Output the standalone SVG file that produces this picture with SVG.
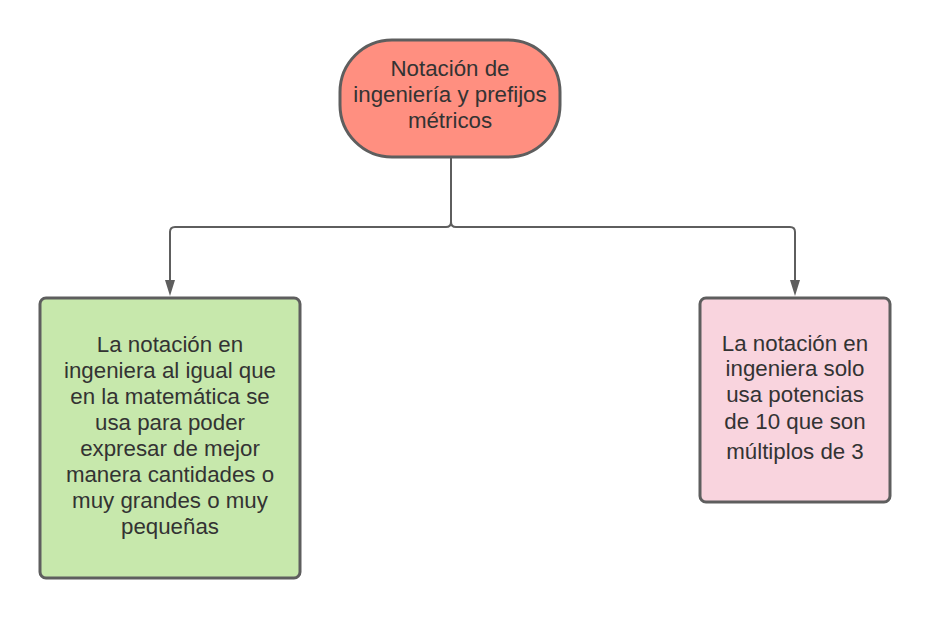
<svg xmlns="http://www.w3.org/2000/svg" width="930" height="618" viewBox="0 0 930 618">
<defs>
<style>
.box{stroke:#5e5e5e;stroke-width:3}
.t{font-family:"Liberation Sans",Arial,sans-serif;font-size:22.3px;fill:#333333;text-anchor:middle}
.c{fill:none;stroke:#5e5e5e;stroke-width:2}
.ah{fill:#5e5e5e}
</style>
</defs>
<rect width="930" height="618" fill="#ffffff"/>
<g id="connectors">
<path class="c" d="M451,157 V222 Q451,227 446,227 H175 Q170,227 170,232 V280"/>
<path class="ah" d="M165,280 L175,280 L170,296 Z"/>
<path class="c" d="M451,157 V222 Q451,227 456,227 H790 Q795,227 795,232 V280"/>
<path class="ah" d="M790,280 L800,280 L795,296 Z"/>
</g>
<g id="node-top">
<rect class="box" x="340" y="40" width="220" height="117" rx="52" fill="#ff8f80"/>
<text class="t" x="450" y="76">Notación de</text>
<text class="t" x="450" y="102">ingeniería y prefijos</text>
<text class="t" x="450" y="128">métricos</text>
</g>
<g id="node-left">
<rect class="box" x="40" y="298" width="260" height="280" rx="6" fill="#c7e8ac"/>
<text class="t" x="170" y="352">La notación en</text>
<text class="t" x="170" y="378">ingeniera al igual que</text>
<text class="t" x="170" y="404">en la matemática se</text>
<text class="t" x="170" y="430">usa para poder</text>
<text class="t" x="170" y="456">expresar de mejor</text>
<text class="t" x="170" y="482">manera cantidades o</text>
<text class="t" x="170" y="508">muy grandes o muy</text>
<text class="t" x="170" y="534">pequeñas</text>
</g>
<g id="node-right">
<rect class="box" x="700" y="298" width="190" height="204" rx="6" fill="#f9d4de"/>
<text class="t" x="795" y="351">La notación en</text>
<text class="t" x="795" y="376">ingeniera solo</text>
<text class="t" x="795" y="402">usa potencias</text>
<text class="t" x="795" y="429">de 10 que son</text>
<text class="t" x="795" y="459">múltiplos de 3</text>
</g>
</svg>
